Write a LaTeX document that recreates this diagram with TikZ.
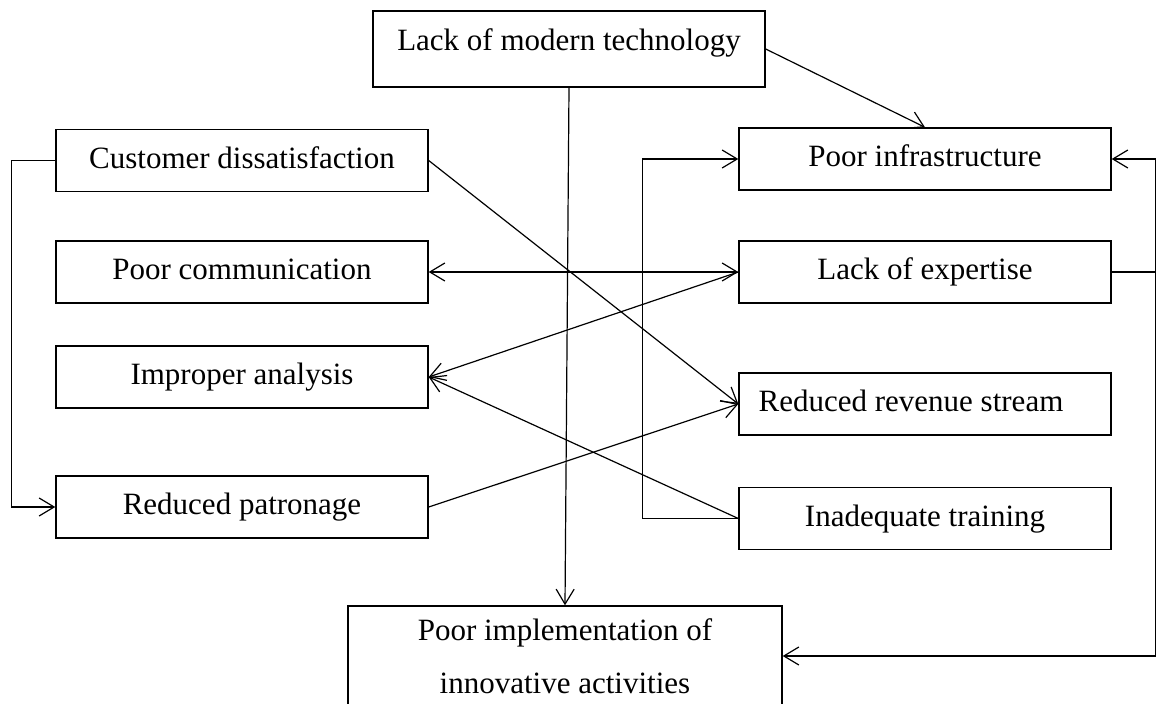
\documentclass[tikz,border=0pt]{standalone}
\usepackage{fontspec}
\setmainfont{Liberation Serif}
\usetikzlibrary{arrows.meta,calc}
\begin{document}
\begin{tikzpicture}[x=1pt,y=-1pt,
  box/.style={draw, line width=1.4pt, rectangle, inner sep=0pt,
    minimum width=372pt, minimum height=62pt,
    font=\fontsize{31pt}{53pt}\selectfont, text height=22pt, text depth=7pt},
  conn/.style={line width=1.2pt},
  arr/.style={conn, -{Straight Barb[length=15pt,width=18pt,line width=1.2pt]}},
  darr/.style={conn, {Straight Barb[length=15pt,width=18pt,line width=1.2pt]}-{Straight Barb[length=15pt,width=18pt,line width=1.2pt]}}
]
\useasboundingbox (0,0) rectangle (1162,704);
\node[box, minimum width=392pt, minimum height=76pt, text depth=20pt] (top) at (569,49) {Lack of modern technology};
\node[box] (cd) at (242,160.5) {Customer dissatisfaction};
\node[box] (pc) at (242,272) {Poor communication};
\node[box] (ia) at (242,377) {Improper analysis};
\node[box] (rp) at (242,507) {Reduced patronage};
\node[box] (pi) at (925,159) {Poor infrastructure};
\node[box] (le) at (925,272) {Lack of expertise};
\node[box] (rr) at (925,404) {Reduced revenue stream\hspace*{28pt}};
\node[box] (it) at (925,518.5) {Inadequate training};
\node[box, minimum width=434pt, minimum height=100pt, align=center, text height=, text depth=] (impl) at (565,656) {Poor implementation of\\innovative activities};

\draw[arr] (top.east) -- (pi.north);
\draw[arr] (top.south) -- (impl.north);
\draw[arr] (cd.west) -- ++(-44,0) |- (rp.west);
\draw[arr] (cd.east) -- (rr.west);
\draw[darr] (pc.east) -- (le.west);
\draw[arr] (le.west) -- (ia.east);
\draw[arr] (it.west) -- (ia.east);
\draw[arr] (it.west) -- ++(-96,0) |- (pi.west);
\draw[arr] (rp.east) -- (rr.west);
\coordinate (jr) at ($(le.east)+(44,0)$);
\draw[conn] (le.east) -- (jr);
\draw[arr] (jr) |- (pi.east);
\draw[arr] (jr) |- (impl.east);
\end{tikzpicture}
\end{document}
